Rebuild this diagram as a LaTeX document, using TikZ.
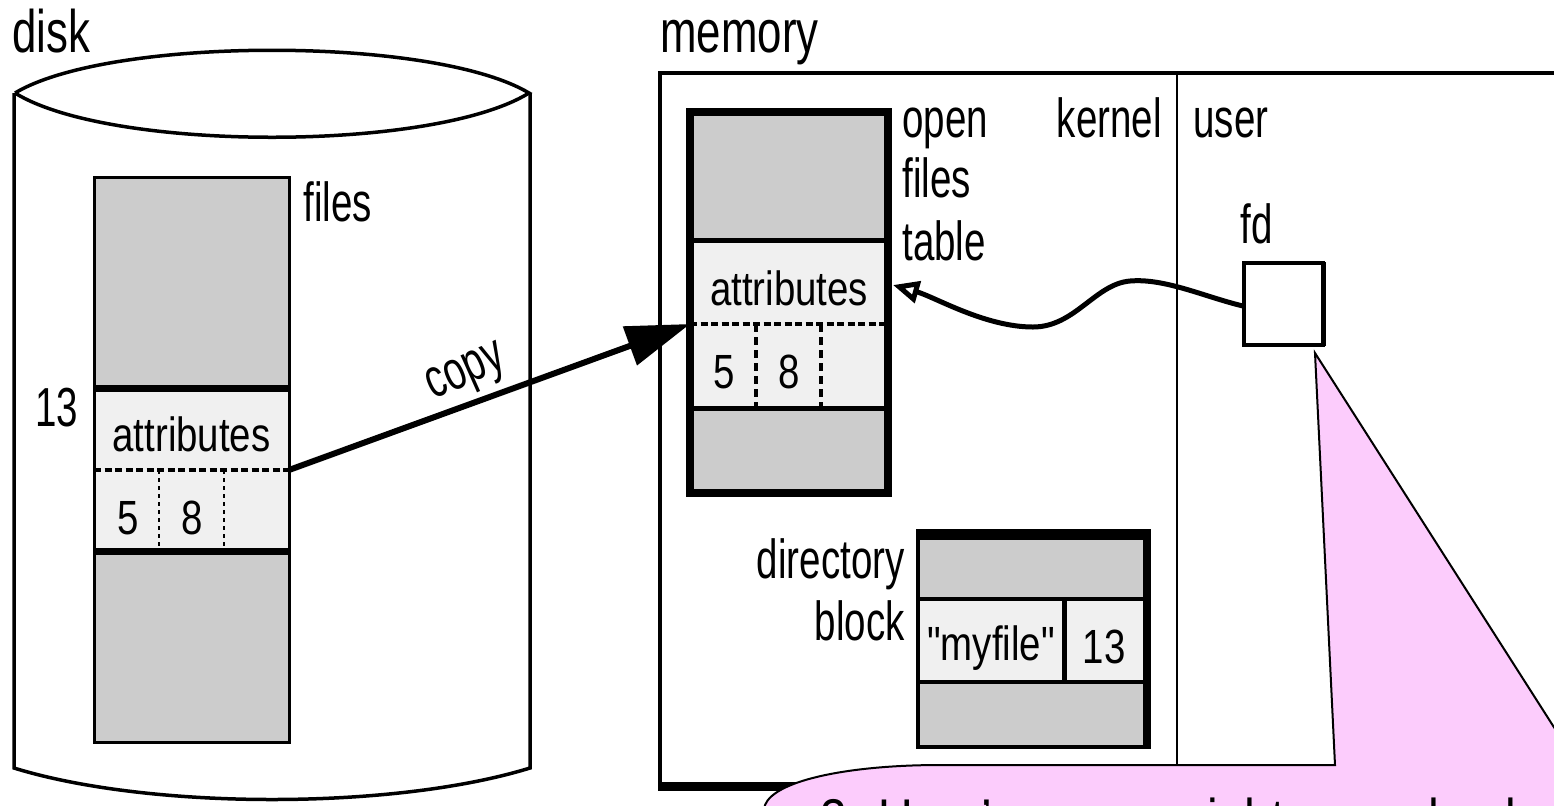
\documentclass[tikz,border=0pt]{standalone}
\usepackage{fontspec}
\setmainfont{Liberation Sans}
\newfontfamily\labfont[FakeStretch=0.70]{Liberation Sans}
\newfontfamily\boxfont[FakeStretch=0.8]{Liberation Sans}
\newfontfamily\ttlfont[FakeStretch=0.73]{Liberation Sans}
\newfontfamily\callfont[FakeStretch=0.857]{Liberation Sans}
\usetikzlibrary{arrows.meta}
\definecolor{cellgray}{RGB}{204,204,204}
\definecolor{celllight}{RGB}{240,240,240}
\definecolor{callpink}{RGB}{252,204,252}
\tikzset{
  lab/.style={inner sep=0pt, font=\labfont\fontsize{27.5}{31}\selectfont},
  ttl/.style={inner sep=0pt, font=\ttlfont\fontsize{30}{34}\selectfont},
  boxt/.style={inner sep=0pt, font=\boxfont\fontsize{24}{28}\selectfont},
  callt/.style={inner sep=0pt, font=\callfont\fontsize{28}{32}\selectfont},
  cyl/.style={line width=1.75pt, line join=miter},
  thinbox/.style={line width=1.5pt},
  heavybox/.style={line width=4pt},
  sepline/.style={line width=3.5pt},
  dotsep/.style={line width=2pt, dash pattern=on 3.5pt off 1.75pt},
  dotvert/.style={line width=1pt, dash pattern=on 2pt off 2pt},
  dotsepM/.style={line width=2pt, dash pattern=on 3.5pt off 1.75pt},
  dotvertM/.style={line width=2.25pt, dash pattern=on 4pt off 2.5pt},
  copyarrow/.style={line width=3pt, -{Triangle[length=32pt,width=20pt]}},
  wavearrow/.style={line width=2.5pt, -{Triangle[open,length=13pt,width=11pt,fill=white]}},
  callout/.style={fill=callpink, draw=black, line width=1pt, line join=miter},
}
\begin{document}
\begin{tikzpicture}[x=0.5pt,y=-0.5pt]
\useasboundingbox (0,0) rectangle (1554,805);
\clip (0,0) rectangle (1554,805);

% ---------- disk ----------
\node[ttl, anchor=base west] (disklbl) at (12,52) {disk};
\draw[cyl] (15,93) .. controls (110,36) and (434,36) .. (529,93)
                   .. controls (434,152) and (110,152) .. (15,93);
\draw[cyl] (14,93) -- (14,768)
   .. controls (150,810) and (394,810) .. (530,768) -- (530,93);

\fill[cellgray]  (94,177) rectangle (289,388);
\fill[celllight] (94,388) rectangle (289,551);
\fill[cellgray]  (94,551) rectangle (289,742);
\draw[thinbox] (94,177) rectangle (289,742);
\draw[sepline] (94,388) -- (289,388);
\draw[sepline] (94,551) -- (289,551);
\draw[dotsep] (94,470) -- (289,470);
\draw[dotvert] (159,470) -- (159,551);
\draw[dotvert] (224,470) -- (224,551);
\coordinate (dattr) at (289,470);

\node[lab, anchor=base west] (dfiles) at (303,221) {files};
\node[lab, anchor=base west] (d13) at (35,426) {13};
\node[boxt, anchor=base] (dattrtxt) at (191.5,451) {attributes};
\node[boxt, anchor=base] (dfive) at (128,534) {5};
\node[boxt, anchor=base] (deight) at (192,534) {8};

% ---------- memory ----------
\node[ttl, anchor=base west] (memlbl) at (660,52) {memory};
\draw[line width=2pt] (1570,73) -- (660,73) -- (660,786);
\draw[line width=4.5pt] (658,786) -- (1570,786);
\draw[line width=1.25pt] (1177,73) -- (1177,786);

% open files table
\fill[cellgray]  (690,112) rectangle (888,240);
\fill[celllight] (690,240) rectangle (888,408);
\fill[cellgray]  (690,408) rectangle (888,493);
\draw[heavybox] (690,112) rectangle (888,493);
\draw[line width=2.5pt] (690,240) -- (888,240);
\draw[line width=2.5pt] (690,408) -- (888,408);
\draw[dotsepM] (690,324) -- (888,324);
\draw[dotvertM] (756,324) -- (756,408);
\draw[dotvertM] (821,324) -- (821,408);
\coordinate (mattr) at (690,324);
\coordinate (mattrE) at (893,285);

\node[boxt, anchor=base] (mattrtxt) at (789,305) {attributes};
\node[boxt, anchor=base] (mfive) at (724.5,388) {5};
\node[boxt, anchor=base] (meight) at (789,388) {8};
\node[lab, anchor=base west] (open) at (902,137) {open};
\node[lab, anchor=base west] (files) at (902,197) {files};
\node[lab, anchor=base west] (table) at (902,260) {table};
\node[lab, anchor=base east] (kernel) at (1162,137) {kernel};
\node[lab, anchor=base west] (user) at (1193,137) {user};

% directory block
\fill[cellgray]  (918,531) rectangle (1149,599);
\fill[celllight] (918,599) rectangle (1149,682);
\fill[cellgray]  (918,682) rectangle (1149,747);
\draw[line width=2pt] (918,531) rectangle (1149,747);
\draw[line width=4.5pt] (916,535) -- (1151,535);
\draw[line width=3.25pt] (1146,531) -- (1146,749);
\draw[line width=2pt] (918,599) -- (1149,599);
\draw[line width=2pt] (918,682) -- (1149,682);
\draw[line width=2.5pt] (1064,599) -- (1064,682);
\node[boxt, anchor=base] (myfile) at (991,660) {"myfile"};
\node[boxt, anchor=base] (dir13) at (1104,663) {13};
\node[lab, anchor=base east] (dirlbl) at (905,578) {directory};
\node[lab, anchor=base east] (blocklbl) at (905,640) {block};

% fd
\node[lab, anchor=base west] (fdlbl) at (1240,243) {fd};
\draw[line width=2pt] (1244,263) rectangle (1323,345);
\draw[line width=2.5pt] (1323,262) -- (1323,346);
\coordinate (fdW) at (1243,306);
\coordinate (fdC) at (1315,353);

% ---------- connectors ----------
\draw[copyarrow] (dattr) -- (mattr);
\node[lab, rotate=24] (copylbl) at (467,375) {copy};
\draw[wavearrow] (fdW) .. controls (1205,297) and (1165,278) .. (1130,281)
   .. controls (1095,284) and (1075,327) .. (1033,327)
   .. controls (985,327) and (935,297) .. (mattrE);

% ---------- callout ----------
\path[callout] (fdC) -- (1335,765) -- (940,765)
   .. controls (850,765) and (775,780) .. (765,805) -- (763,850)
   -- (1620,850) -- (1620,768) -- (1580,768) -- cycle;
\node[callt, anchor=base west] (calltext) at (820,838) {3. User’s access rights are checked};
\end{tikzpicture}
\end{document}
